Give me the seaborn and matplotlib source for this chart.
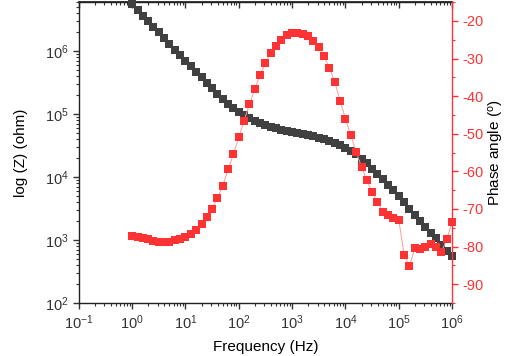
import numpy as np
import pandas as pd
import matplotlib
matplotlib.use('Agg')
import matplotlib.pyplot as plt
import seaborn as sns
from matplotlib.ticker import LogLocator, MultipleLocator, NullFormatter

# --- datos ---
freq = [1, 1.26, 1.58, 2.0, 2.51, 3.16, 3.98, 5.01, 6.31, 7.94,
        10, 12.6, 15.8, 20.0, 25.1, 31.6, 39.8, 50.1, 63.1, 79.4,
        100, 126, 158, 200, 251, 316, 398, 501, 631, 794,
        1e3, 1.26e3, 1.58e3, 2.0e3, 2.51e3, 3.16e3, 3.98e3, 5.01e3, 6.31e3, 7.94e3,
        1e4, 1.26e4, 1.58e4, 2.0e4, 2.51e4, 3.16e4, 3.98e4, 5.01e4, 6.31e4, 7.94e4,
        1e5, 1.26e5, 1.58e5, 2.0e5, 2.51e5, 3.16e5, 3.98e5, 5.01e5, 6.31e5, 7.94e5,
        1e6]

z_mod = [5.57e6, 4.48e6, 3.63e6, 2.96e6, 2.43e6, 1.98e6, 1.63e6, 1.31e6, 1.06e6, 8.65e5,
         7.02e5, 5.78e5, 4.70e5, 3.82e5, 3.14e5, 2.56e5, 2.10e5, 1.73e5, 1.44e5, 1.23e5,
         1.06e5, 9.53e4, 8.55e4, 7.83e4, 7.11e4, 6.62e4, 6.22e4, 5.93e4, 5.68e4, 5.47e4,
         5.27e4, 5.08e4, 4.90e4, 4.69e4, 4.48e4, 4.24e4, 4.01e4, 3.77e4, 3.53e4, 3.22e4,
         2.88e4, 2.61e4, 2.32e4, 1.95e4, 1.65e4, 1.34e4, 1.10e4, 9.18e3, 7.46e3, 6.22e3,
         4.99e3, 4.06e3, 3.07e3, 2.49e3, 2.02e3, 1.59e3, 1.31e3, 1.06e3, 834, 668,
         557]

phase = [-77.1, -77.4, -77.7, -78.1, -78.5, -78.8, -78.9, -78.7, -78.3, -78.0,
         -77.4, -76.7, -75.6, -74.1, -72.1, -69.9, -67.0, -63.8, -59.5, -55.4,
         -50.9, -46.5, -42.2, -38.1, -34.3, -31.2, -28.5, -26.6, -25.0, -23.8,
         -23.3, -23.3, -23.5, -24.1, -25.3, -26.9, -29.4, -32.5, -36.3, -41.2,
         -46.0, -50.4, -54.8, -58.8, -62.4, -65.5, -68.2, -70.7, -71.6, -72.5,
         -72.9, -82.2, -85.3, -80.4, -80.6, -80.2, -79.3, -80.1, -81.5, -78.0,
         -73.6]

df = pd.DataFrame({'freq': freq, 'z': z_mod, 'phase': phase})

sns.set_theme(style="ticks")
plt.rcParams['font.family'] = ['Liberation Sans', 'DejaVu Sans']
plt.rcParams['mathtext.default'] = 'regular'
plt.rcParams['axes.unicode_minus'] = False

negro = '#404040'
rojo = '#ff3333'
gris = '#333333'

fig = plt.figure(figsize=(5.12, 3.56), dpi=100)
ax = fig.add_axes([0.154, 0.149, 0.729, 0.845])
ax2 = ax.twinx()

# modulo de impedancia
sns.lineplot(data=df, x='freq', y='z', ax=ax, color=negro, linewidth=1, sort=False)
sns.scatterplot(data=df, x='freq', y='z', ax=ax, color=negro, marker='s', s=30,
                linewidth=0, clip_on=False, zorder=3)

# angulo de fase
sns.lineplot(data=df, x='freq', y='phase', ax=ax2, color='#ff9a9a', linewidth=0.7, sort=False)
sns.scatterplot(data=df, x='freq', y='phase', ax=ax2, color=rojo, marker='s', s=30,
                linewidth=0, clip_on=False, zorder=3)

ax.set_xscale('log')
ax.set_yscale('log')
ax.set_xlim(0.1, 1e6)
ax.set_ylim(100, 6.0e6)
ax2.set_ylim(-95, -15)

ax.xaxis.set_major_locator(LogLocator(base=10, numticks=12))
ax.xaxis.set_minor_locator(LogLocator(base=10, subs=np.arange(2, 10), numticks=12))
ax.xaxis.set_minor_formatter(NullFormatter())
ax.yaxis.set_major_locator(LogLocator(base=10, numticks=12))
ax.yaxis.set_minor_locator(LogLocator(base=10, subs=np.arange(2, 10), numticks=12))
ax.yaxis.set_minor_formatter(NullFormatter())
ax2.yaxis.set_major_locator(MultipleLocator(10))
ax2.yaxis.set_minor_locator(MultipleLocator(5))

ax.tick_params(which='major', direction='out', length=4, width=1, colors=gris, labelsize=10.5)
ax.tick_params(which='minor', direction='out', length=2, width=0.8, colors=gris)
ax2.tick_params(axis='y', which='major', direction='out', length=4, width=1,
                colors=rojo, labelsize=10.5)
ax2.tick_params(axis='y', which='minor', direction='out', length=2, width=0.8, colors=rojo)

# eje superior con marcas hacia dentro
sec = ax.secondary_xaxis('top')
sec.xaxis.set_major_locator(LogLocator(base=10, numticks=12))
sec.xaxis.set_minor_locator(LogLocator(base=10, subs=np.arange(2, 10), numticks=12))
sec.tick_params(which='major', direction='in', length=4, width=1, colors=gris, labeltop=False)
sec.tick_params(which='minor', direction='in', length=2, width=0.8, colors=gris)
sec.xaxis.set_major_formatter(NullFormatter())
sec.xaxis.set_minor_formatter(NullFormatter())

for lado in ['left', 'bottom', 'top']:
    ax2.spines[lado].set_visible(False)
    ax.spines[lado].set_color('#222222')
    ax.spines[lado].set_linewidth(1)
ax.spines['right'].set_visible(False)
sec.spines['top'].set_color('#222222')
ax2.spines['right'].set_color(rojo)
ax2.spines['right'].set_linewidth(1)

ax.set_xlabel('Frequency (Hz)', fontsize=11, color='black', labelpad=6)
ax.set_ylabel('log (Z) (ohm)', fontsize=11, color='black', labelpad=12)
ax2.set_ylabel('Phase angle ($^o$)', fontsize=11, color='black', labelpad=2)
ax.grid(False)
ax2.grid(False)

fig.savefig('out.png', dpi=100)
